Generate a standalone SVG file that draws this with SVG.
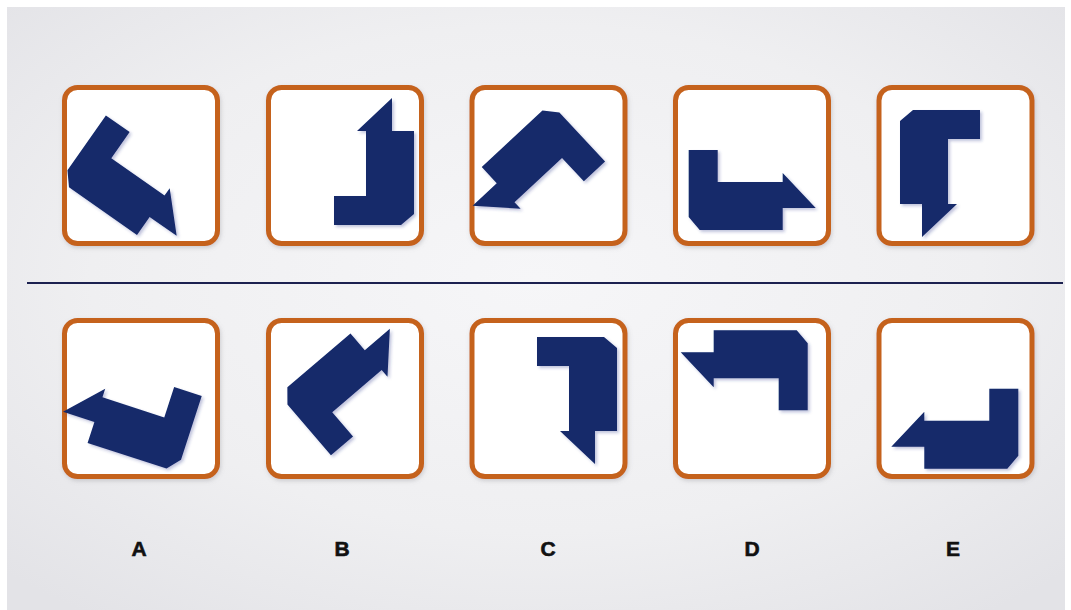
<svg xmlns="http://www.w3.org/2000/svg" xmlns:xlink="http://www.w3.org/1999/xlink" width="1071" height="610" viewBox="0 0 1071 610">
<defs>
  <radialGradient id="bg" cx="0.5" cy="0.45" r="0.7">
    <stop offset="0" stop-color="#f6f6f8"/>
    <stop offset="0.6" stop-color="#efeff1"/>
    <stop offset="1" stop-color="#e3e3e7"/>
  </radialGradient>
  <filter id="boxsh" x="-10%" y="-10%" width="120%" height="120%">
    <feDropShadow dx="1" dy="2" stdDeviation="2" flood-color="#7a7a80" flood-opacity="0.3"/>
  </filter>
  <filter id="shsh" x="-10%" y="-10%" width="130%" height="130%">
    <feDropShadow dx="2" dy="2" stdDeviation="1.5" flood-color="#2a3a8a" flood-opacity="0.3"/>
  </filter>
  <path id="shape" d="M0,-13 L0,-80 L29,-80 L29,-48 L94,-48 L94,-57 L127,-22 L94,-22 L94,0 L11,0 Z"/>
</defs>
<style>
  .box { fill: #ffffff; stroke: #c5621f; stroke-width: 5; }
  .fig { fill: #13296b; }
  .lbl { font-family: "Liberation Sans", Arial, sans-serif; font-weight: bold; font-size: 21px; fill: #111111; stroke: #111111; stroke-width: 0.6; text-anchor: middle; }
</style>
<rect x="0" y="0" width="1071" height="610" fill="#ffffff"/>
<rect x="7" y="7" width="1058" height="603" fill="url(#bg)"/>

<g id="separator">
  <line x1="27" y1="283" x2="1063" y2="283" stroke="#1c2150" stroke-width="2"/>
</g>

<g id="top-1">
  <rect class="box" x="64.5" y="87.5" width="153" height="156" rx="13" filter="url(#boxsh)"/>
  <g filter="url(#shsh)"><use xlink:href="#shape" class="fig" transform="translate(60,181) rotate(35)"/></g>
</g>
<g id="top-2">
  <rect class="box" x="268.5" y="87.5" width="153" height="156" rx="13" filter="url(#boxsh)"/>
  <g filter="url(#shsh)"><use xlink:href="#shape" class="fig" transform="translate(414,225) rotate(-90)"/></g>
</g>
<g id="top-3">
  <rect class="box" x="472" y="87.5" width="153" height="156" rx="13" filter="url(#boxsh)"/>
  <g filter="url(#shsh)"><use xlink:href="#shape" class="fig" transform="translate(550.5,103) rotate(137)"/></g>
</g>
<g id="top-4">
  <rect class="box" x="675.5" y="87.5" width="153" height="156" rx="13" filter="url(#boxsh)"/>
  <g filter="url(#shsh)"><use xlink:href="#shape" class="fig" transform="translate(688.7,230)"/></g>
</g>
<g id="top-5">
  <rect class="box" x="879" y="87.5" width="153" height="156" rx="13" filter="url(#boxsh)"/>
  <g filter="url(#shsh)"><use xlink:href="#shape" class="fig" transform="translate(900,110) rotate(90)"/></g>
</g>

<g id="option-A">
  <rect class="box" x="64.5" y="320.5" width="153" height="156" rx="13" filter="url(#boxsh)"/>
  <g filter="url(#shsh)"><use xlink:href="#shape" class="fig" transform="translate(177,472) rotate(198) scale(1,-1)"/></g>
</g>
<g id="option-B">
  <rect class="box" x="268.5" y="320.5" width="153" height="156" rx="13" filter="url(#boxsh)"/>
  <g filter="url(#shsh)"><use xlink:href="#shape" class="fig" transform="translate(279,394.5) rotate(-40.5) scale(1,-1)"/></g>
</g>
<g id="option-C">
  <rect class="box" x="472" y="320.5" width="153" height="156" rx="13" filter="url(#boxsh)"/>
  <g filter="url(#shsh)"><use xlink:href="#shape" class="fig" transform="translate(617,337) rotate(90) scale(1,-1)"/></g>
</g>
<g id="option-D">
  <rect class="box" x="675.5" y="320.5" width="153" height="156" rx="13" filter="url(#boxsh)"/>
  <g filter="url(#shsh)"><use xlink:href="#shape" class="fig" transform="translate(807.7,330.3) rotate(180)"/></g>
</g>
<g id="option-E">
  <rect class="box" x="879" y="320.5" width="153" height="156" rx="13" filter="url(#boxsh)"/>
  <g filter="url(#shsh)"><use xlink:href="#shape" class="fig" transform="translate(1018.3,468.7) scale(-1,1)"/></g>
</g>

<g id="labels">
  <text class="lbl" x="139" y="556">A</text>
  <text class="lbl" x="342" y="556">B</text>
  <text class="lbl" x="548" y="556">C</text>
  <text class="lbl" x="752" y="556">D</text>
  <text class="lbl" x="953" y="556">E</text>
</g>
</svg>
